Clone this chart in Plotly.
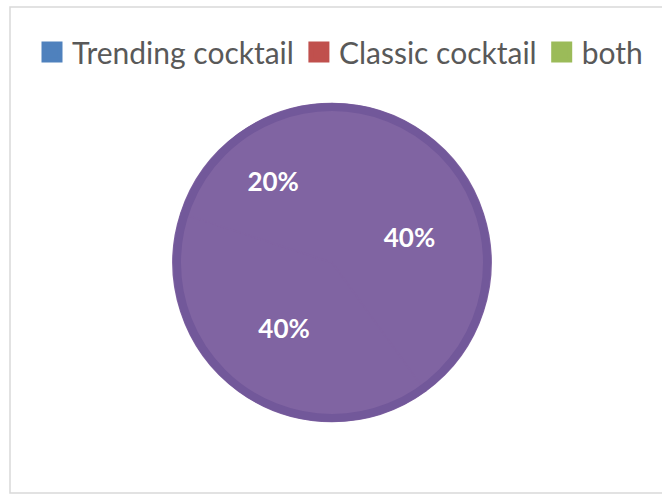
import plotly.graph_objects as go

categories = ["Trending cocktail", "Classic cocktail", "both"]
shares = [40, 40, 20]
legend_colors = ["#4F81BD", "#C0504D", "#9BBB59"]
slice_color = "#8064A2"
ring_color = "#72589A"

W, H = 662, 495
fig = go.Figure()

fig.add_trace(go.Pie(
    labels=categories,
    values=shares,
    sort=False,
    direction="clockwise",
    rotation=0,
    marker=dict(colors=[slice_color] * len(categories), line=dict(width=1.5, color=slice_color)),
    textinfo="percent",
    textposition="inside",
    insidetextorientation="horizontal",
    textfont=dict(family="Lato", size=26, color="white", weight="bold"),
    domain=dict(x=[173 / W, 491 / W], y=[1 - 422 / H, 1 - 103 / H]),
    showlegend=False,
    hoverinfo="label+percent",
))

for name, col in zip(categories, legend_colors):
    fig.add_trace(go.Scatter(
        x=[None], y=[None], mode="markers", name=name,
        marker=dict(symbol="square", size=16, color=col, line=dict(width=5, color=col)),
    ))

# outer darker ring of the pie
fig.add_shape(type="circle", xref="paper", yref="paper",
              x0=177 / W, x1=487 / W, y0=1 - 418 / H, y1=1 - 107 / H,
              line=dict(color=ring_color, width=8), layer="above")
# chart frame
fig.add_shape(type="rect", xref="paper", yref="paper",
              x0=10 / W, x1=1.02, y0=1 - 493 / H, y1=1 - 7 / H,
              line=dict(color="#D9D9D9", width=1.5), layer="below")

fig.update_layout(
    width=W, height=H,
    margin=dict(l=0, r=0, t=0, b=0),
    paper_bgcolor="white", plot_bgcolor="white",
    xaxis=dict(visible=False), yaxis=dict(visible=False),
    legend=dict(orientation="h", x=32 / W, y=1 - 26 / H, xanchor="left", yanchor="top",
                font=dict(family="Lato", size=30, color="#595959"),
                itemclick=False, bgcolor="rgba(0,0,0,0)"),
)

fig.write_html("out.html")
